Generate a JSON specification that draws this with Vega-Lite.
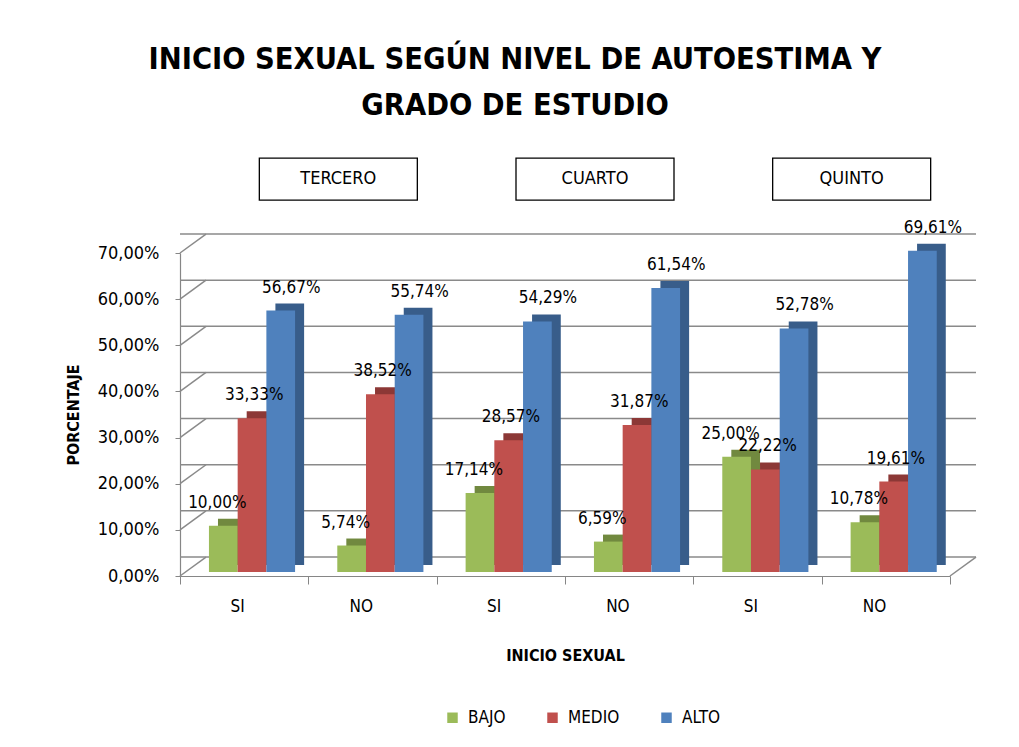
{
  "$schema": "https://vega.github.io/schema/vega-lite/v6.json",
  "width": 770,
  "height": 323,
  "autosize": {"type": "none"},
  "padding": {"left": 180, "top": 253, "right": 69, "bottom": 171},
  "background": "white",
  "config": {
    "locale": {"number": {"decimal": ",", "thousands": ".", "grouping": [3], "currency": ["", " €"]}},
    "font": "DejaVu Sans Condensed",
    "view": {"stroke": null}
  },
  "title": {
    "text": ["INICIO SEXUAL SEGÚN NIVEL DE AUTOESTIMA Y", "GRADO DE ESTUDIO"],
    "font": "Liberation Sans Narrow, DejaVu Sans Condensed, sans-serif",
    "fontSize": 30.5,
    "fontWeight": "bold",
    "color": "black",
    "anchor": "middle",
    "frame": "group",
    "dx": -50,
    "offset": 34,
    "lineHeight": 46
  },
  "datasets": {
    "main": [
      {"cat": "TERCERO|SI", "nivel": "BAJO", "pct": 0.1},
      {"cat": "TERCERO|SI", "nivel": "MEDIO", "pct": 0.3333},
      {"cat": "TERCERO|SI", "nivel": "ALTO", "pct": 0.5667},
      {"cat": "TERCERO|NO", "nivel": "BAJO", "pct": 0.0574},
      {"cat": "TERCERO|NO", "nivel": "MEDIO", "pct": 0.3852},
      {"cat": "TERCERO|NO", "nivel": "ALTO", "pct": 0.5574},
      {"cat": "CUARTO|SI", "nivel": "BAJO", "pct": 0.1714},
      {"cat": "CUARTO|SI", "nivel": "MEDIO", "pct": 0.2857},
      {"cat": "CUARTO|SI", "nivel": "ALTO", "pct": 0.5429},
      {"cat": "CUARTO|NO", "nivel": "BAJO", "pct": 0.0659},
      {"cat": "CUARTO|NO", "nivel": "MEDIO", "pct": 0.3187},
      {"cat": "CUARTO|NO", "nivel": "ALTO", "pct": 0.6154},
      {"cat": "QUINTO|SI", "nivel": "BAJO", "pct": 0.25},
      {"cat": "QUINTO|SI", "nivel": "MEDIO", "pct": 0.2222},
      {"cat": "QUINTO|SI", "nivel": "ALTO", "pct": 0.5278},
      {"cat": "QUINTO|NO", "nivel": "BAJO", "pct": 0.1078},
      {"cat": "QUINTO|NO", "nivel": "MEDIO", "pct": 0.1961},
      {"cat": "QUINTO|NO", "nivel": "ALTO", "pct": 0.6961}
    ],
    "grid": [
      {"v": 0}, {"v": 0.1}, {"v": 0.2}, {"v": 0.3}, {"v": 0.4}, {"v": 0.5}, {"v": 0.6}, {"v": 0.7}
    ],
    "grados": [
      {"grado": "TERCERO", "cat": "TERCERO|NO"},
      {"grado": "CUARTO", "cat": "CUARTO|NO"},
      {"grado": "QUINTO", "cat": "QUINTO|NO"}
    ]
  },
  "layer": [
    {
      "data": {"name": "grid"},
      "mark": {"type": "rule", "color": "#8a8a8a", "strokeWidth": 1.5, "xOffset": 26, "x2Offset": 26, "yOffset": -19},
      "encoding": {
        "y": {
          "field": "v", "type": "quantitative",
          "scale": {"domain": [0, 0.7], "nice": false, "zero": true},
          "axis": {
            "title": "PORCENTAJE",
            "values": [0, 0.1, 0.2, 0.3, 0.4, 0.5, 0.6, 0.7],
            "format": ".2%",
            "grid": false,
            "domainColor": "#868686",
            "domainWidth": 1.2,
            "tickColor": "#868686",
            "tickSize": 5,
            "labelFontSize": 18,
            "labelColor": "black",
            "labelPadding": 16,
            "titleFontSize": 16,
            "titleFontWeight": "bold",
            "titleColor": "black",
            "titlePadding": 16
          }
        }
      }
    },
    {
      "data": {"name": "grid"},
      "mark": {"type": "point", "shape": "M0,0L2,-1.46", "size": 676, "filled": false, "stroke": "#8a8a8a", "strokeWidth": 1.5, "opacity": 1},
      "encoding": {
        "x": {"datum": "TERCERO|SI", "type": "nominal", "bandPosition": 0},
        "y": {"field": "v", "type": "quantitative"}
      }
    },
    {
      "data": {"name": "grid"},
      "transform": [{"filter": "datum.v == 0"}],
      "mark": {"type": "point", "shape": "M0,0L2,-1.46", "size": 676, "filled": false, "stroke": "#8a8a8a", "strokeWidth": 1.5, "opacity": 1},
      "encoding": {
        "x": {"datum": "QUINTO|NO", "type": "nominal", "bandPosition": 1},
        "y": {"field": "v", "type": "quantitative"}
      }
    },
    {
      "data": {"name": "main"},
      "mark": {"type": "bar", "yOffset": -11, "y2Offset": -11},
      "encoding": {
        "x": {"field": "cat", "type": "nominal"},
        "xOffset": {"field": "nivel", "type": "nominal", "scale": {"domain": ["BAJO", "MEDIO", "ALTO"], "paddingInner": 0, "paddingOuter": 0.735, "align": 0.9}},
        "y": {"field": "pct", "type": "quantitative"},
        "color": {"field": "nivel", "type": "nominal", "scale": {"domain": ["BAJO", "MEDIO", "ALTO"], "range": ["#71893F", "#8C3836", "#385D8A"]}, "legend": null}
      }
    },
    {
      "data": {"name": "main"},
      "mark": {"type": "bar", "yOffset": -4, "y2Offset": -4},
      "encoding": {
        "x": {
          "field": "cat", "type": "nominal",
          "scale": {"domain": ["TERCERO|SI", "TERCERO|NO", "CUARTO|SI", "CUARTO|NO", "QUINTO|SI", "QUINTO|NO"], "paddingInner": 0, "paddingOuter": 0},
          "axis": {
            "title": "INICIO SEXUAL",
            "labelExpr": "split(datum.label, '|')[1]",
            "tickBand": "extent",
            "labelAngle": 0,
            "domainColor": "#868686",
            "domainWidth": 1.2,
            "tickColor": "#868686",
            "tickSize": 8,
            "labelFontSize": 17,
            "labelColor": "black",
            "labelPadding": 22,
            "titleFontSize": 16,
            "titleFontWeight": "bold",
            "titleColor": "black",
            "titlePadding": 33
          }
        },
        "xOffset": {"field": "nivel", "type": "nominal", "scale": {"domain": ["BAJO", "MEDIO", "ALTO"], "paddingInner": 0, "paddingOuter": 0.735, "align": 0.686}},
        "y": {"field": "pct", "type": "quantitative"},
        "color": {
          "field": "nivel", "type": "nominal",
          "scale": {"domain": ["BAJO", "MEDIO", "ALTO"], "range": ["#9BBB59", "#C0504D", "#4F81BD"]},
          "legend": {
            "title": null,
            "orient": "none",
            "legendX": 264,
            "legendY": 456,
            "direction": "horizontal",
            "symbolType": "square",
            "symbolSize": 110,
            "symbolStrokeWidth": 0,
            "labelFontSize": 17,
            "labelColor": "black",
            "labelOffset": 7,
            "columnPadding": 38
          }
        }
      }
    },
    {
      "data": {"name": "main"},
      "mark": {"type": "text", "fontSize": 17, "baseline": "middle", "align": "center", "yOffset": -27, "color": "black"},
      "encoding": {
        "x": {"field": "cat", "type": "nominal"},
        "xOffset": {"field": "nivel", "type": "nominal", "scale": {"domain": ["BAJO", "MEDIO", "ALTO"], "paddingInner": 0, "paddingOuter": 0.735, "align": 0.686}},
        "y": {"field": "pct", "type": "quantitative"},
        "text": {"field": "pct", "type": "quantitative", "format": ".2%"}
      }
    },
    {
      "data": {"name": "grados"},
      "mark": {"type": "point", "shape": "M-1,-0.266H1V0.266H-1Z", "size": 24964, "filled": false, "stroke": "black", "strokeWidth": 1.3, "opacity": 1, "xOffset": 30},
      "encoding": {
        "x": {"field": "cat", "type": "nominal", "bandPosition": 0},
        "y": {"datum": 0.86, "type": "quantitative"}
      }
    },
    {
      "data": {"name": "grados"},
      "mark": {"type": "text", "fontSize": 18, "baseline": "middle", "align": "center", "color": "black", "xOffset": 30},
      "encoding": {
        "x": {"field": "cat", "type": "nominal", "bandPosition": 0},
        "y": {"datum": 0.86, "type": "quantitative"},
        "text": {"field": "grado", "type": "nominal"}
      }
    }
  ],
  "resolve": {"scale": {"xOffset": "independent", "color": "independent"}}
}
